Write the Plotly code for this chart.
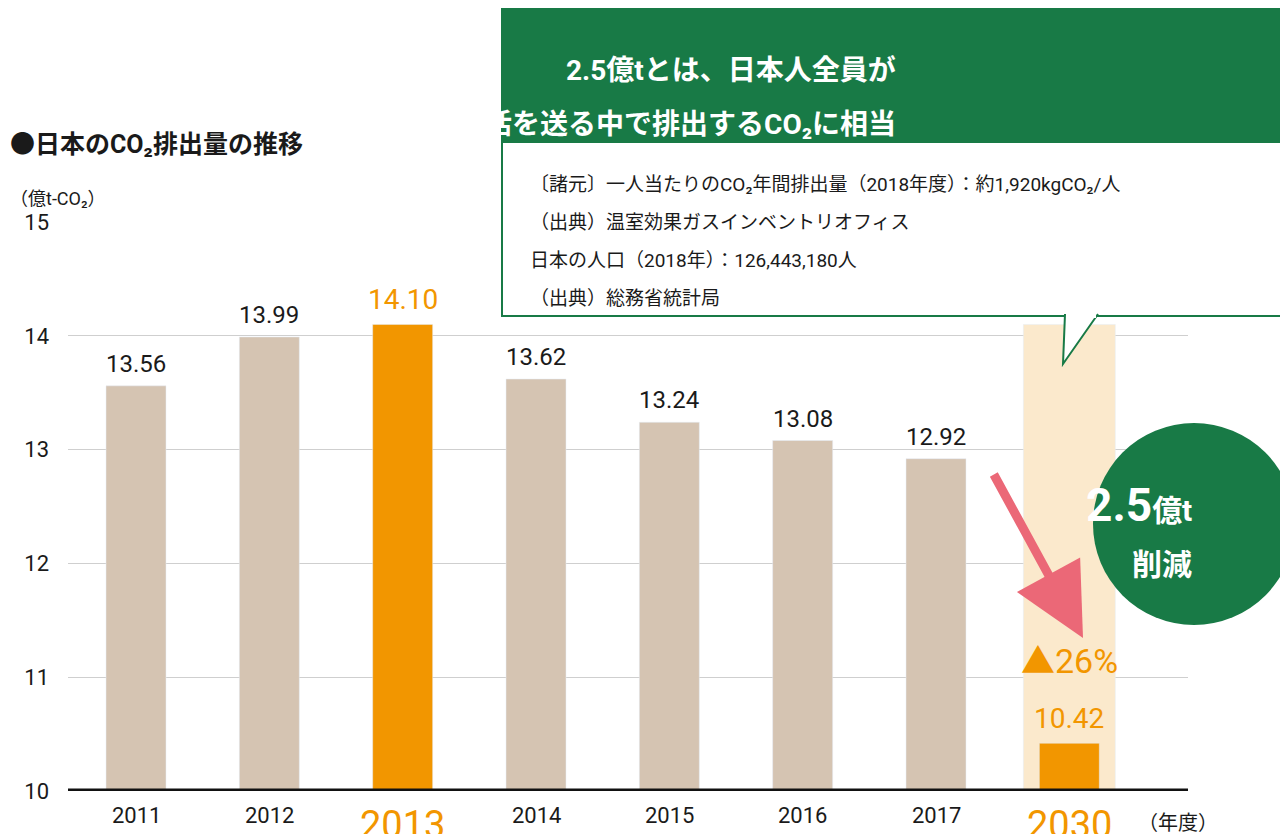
import plotly.graph_objects as go

years = ["2011", "2012", "2013", "2014", "2015", "2016", "2017", "2030"]
values = [13.56, 13.99, 14.10, 13.62, 13.24, 13.08, 12.92, 10.42]
ref_2030 = 14.10
highlight = ["2013", "2030"]

W, H = 1288, 834
L, R, T, B = 60, 1180, 214, 783
XMIN, XMAX = -0.51, 7.89
YMIN, YMAX = 10, 15


def px(x):
    return (x - L) / (R - L)


def py(y):
    return (B - y) / (B - T)


GREEN = "#187a46"
ORANGE = "#f29600"
BEIGE = "#d5c4b2"
FONT = "Roboto, Noto Sans CJK JP"

xs = list(range(len(years)))
colors = [ORANGE if y in highlight else BEIGE for y in years]

fig = go.Figure()
fig.add_bar(x=[7], y=[ref_2030 - YMIN], base=[YMIN], width=0.69,
            marker_color="#fbe9cc", hoverinfo="skip")
fig.add_bar(x=xs, y=[v - YMIN for v in values], base=[YMIN] * len(values), width=0.45,
            marker_color=colors, hoverinfo="skip")

# value labels
for i, (yr, v) in enumerate(zip(years, values)):
    hl = yr in highlight
    fig.add_annotation(x=i, y=v, text=f"{v:.2f}", showarrow=False, yanchor="bottom", yshift=6,
                       font=dict(size=28 if hl else 24, color=ORANGE if hl else "#1a1a1a", family=FONT))
    fig.add_annotation(x=i, y=0, yref="paper", text=yr, showarrow=False, yanchor="top", yshift=-10,
                       font=dict(size=38 if hl else 22, color=ORANGE if hl else "#1a1a1a", family=FONT))

fig.add_annotation(x=7.5, y=0, yref="paper", text="（年度）", showarrow=False, xanchor="left",
                   yanchor="top", yshift=-18, font=dict(size=20, color="#1a1a1a", family=FONT))
fig.add_annotation(x=7, y=10.95, text="▲26%", showarrow=False, yanchor="bottom",
                   font=dict(size=34, color=ORANGE, family=FONT))

# titles
fig.add_annotation(x=px(0), y=py(120), xref="paper", yref="paper", text="<b>●日本のCO₂排出量の推移</b>",
                   showarrow=False, xanchor="left", font=dict(size=25, color="#1a1a1a", family=FONT))
fig.add_annotation(x=px(0), y=py(178), xref="paper", yref="paper", text="（億t-CO₂）",
                   showarrow=False, xanchor="left", font=dict(size=18, color="#1a1a1a", family=FONT))

shapes = []
# callout box
shapes.append(dict(type="rect", xref="paper", yref="paper", x0=px(494), x1=px(1287), y0=py(308), y1=py(134),
                   line=dict(color=GREEN, width=2), fillcolor="white", layer="above"))
shapes.append(dict(type="path", xref="paper", yref="paper",
                   path=f"M {px(1057)} {py(306)} L {px(1055)} {py(356)} L {px(1090)} {py(306)}",
                   line=dict(color=GREEN, width=2), fillcolor="white", layer="above"))
shapes.append(dict(type="line", xref="paper", yref="paper", x0=px(1058), x1=px(1088), y0=py(308), y1=py(308),
                   line=dict(color="white", width=4), layer="above"))
shapes.append(dict(type="rect", xref="paper", yref="paper", x0=px(493), x1=px(1288), y0=py(134), y1=py(0),
                   line=dict(width=0), fillcolor=GREEN, layer="above"))
# circle
shapes.append(dict(type="circle", xref="paper", yref="paper", x0=px(1085), x1=px(1287), y0=py(617), y1=py(415),
                   line=dict(width=0), fillcolor=GREEN, layer="above"))
# baseline
shapes.append(dict(type="line", xref="paper", yref="y", x0=0, x1=1, y0=10, y1=10,
                   line=dict(color="#111", width=5)))
fig.update_layout(shapes=shapes)

fig.add_annotation(x=px(890), y=py(44), xref="paper", yref="paper", text="<b>2.5億tとは、日本人全員が</b>",
                   showarrow=False, font=dict(size=28, color="white", family=FONT))
fig.add_annotation(x=px(890), y=py(98), xref="paper", yref="paper",
                   text="<b>1年間日常生活を送る中で排出するCO₂に相当</b>",
                   showarrow=False, font=dict(size=28, color="white", family=FONT))
notes = ["〔諸元〕一人当たりのCO₂年間排出量（2018年度）：約1,920kgCO₂/人",
         "（出典）温室効果ガスインベントリオフィス",
         "日本の人口（2018年）：126,443,180人",
         "（出典）総務省統計局"]
for k, t in enumerate(notes):
    fig.add_annotation(x=px(520), y=py(163 + 38 * k), xref="paper", yref="paper", text=t,
                       showarrow=False, xanchor="left", font=dict(size=19, color="#1a1a1a", family=FONT))

fig.add_annotation(x=px(1186), y=py(497), xref="paper", yref="paper", text="<b>2.5</b><b><span style='font-size:30px'>億t</span></b>",
                   showarrow=False, font=dict(size=46, color="white", family=FONT))
fig.add_annotation(x=px(1186), y=py(556), xref="paper", yref="paper", text="<b>削減</b>",
                   showarrow=False, font=dict(size=30, color="white", family=FONT))

# arrow
fig.add_annotation(x=px(1075), y=py(630), ax=-90, ay=-165, xref="paper", yref="paper",
                   text="", showarrow=True, arrowhead=2,
                   arrowsize=1.6, arrowwidth=9, arrowcolor="#eb6877")

fig.update_layout(
    width=W, height=H, margin=dict(l=L, r=W - R, t=T, b=H - B),
    plot_bgcolor="white", paper_bgcolor="white", showlegend=False, barmode="overlay",
    xaxis=dict(range=[XMIN, XMAX], showticklabels=False, showgrid=False, zeroline=False),
    yaxis=dict(range=[YMIN, YMAX], dtick=1, gridcolor="#cfcfcf", gridwidth=1, zeroline=False,
               ticklabelstandoff=18, tickfont=dict(size=22, color="#1a1a1a", family=FONT)),
)
fig.write_html("out.html")
